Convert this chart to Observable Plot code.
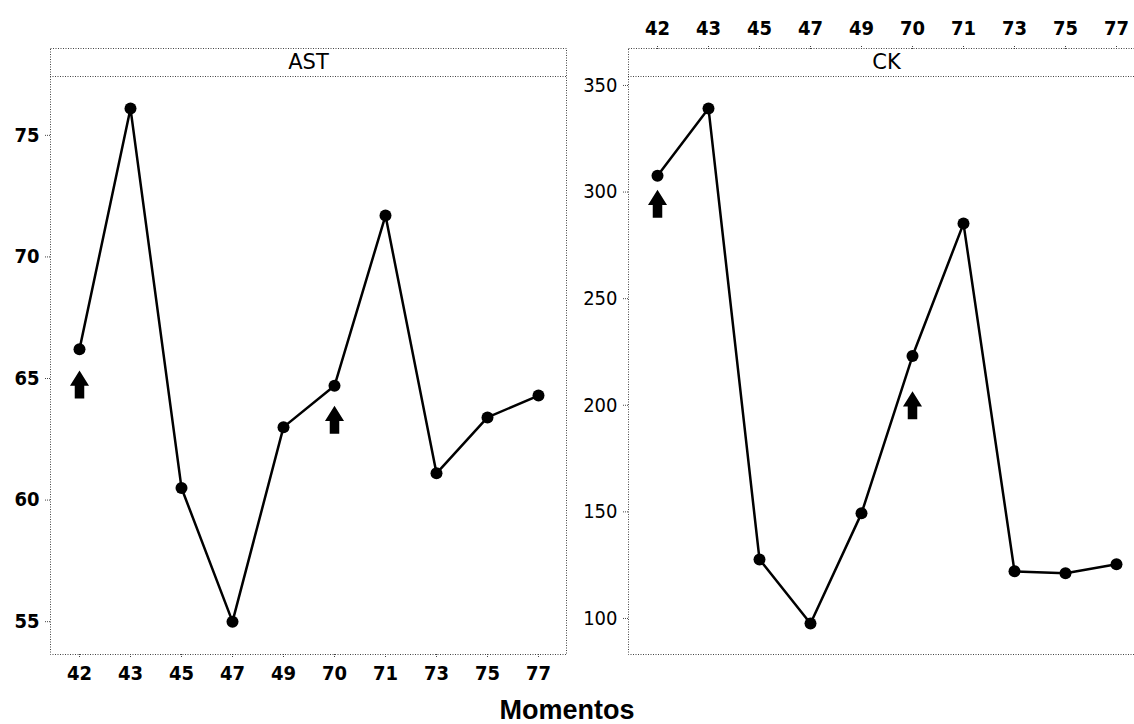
<!DOCTYPE html>
<html>
<head>
<meta charset="utf-8">
<script src="https://cdn.jsdelivr.net/npm/d3@7"></script>
<script src="https://cdn.jsdelivr.net/npm/@observablehq/plot@0.6"></script>
<style>
  html, body { margin: 0; padding: 0; background: #fff; overflow: hidden; }
  #wrap { position: relative; width: 1134px; height: 724px; overflow: hidden; background: #fff; }
  #wrap svg { position: absolute; top: 0; background: transparent; }
  #xlabel { position: absolute; left: 0; width: 1134px; top: 697px; height: 26px; line-height: 26px; text-align: center;
            font-family: "Liberation Sans", Arial, sans-serif; font-weight: bold; font-size: 27px; color: #000; }
</style>
</head>
<body>
<div id="wrap"><div id="xlabel">Momentos</div></div>
<script>
// ---- data ----
const moments = ["42", "43", "45", "47", "49", "70", "71", "73", "75", "77"];
const astValues = [66.2, 76.1, 60.5, 55.0, 63.0, 64.7, 71.7, 61.1, 63.4, 64.3];
const ckValues = [307.7, 339.2, 127.7, 97.6, 149.3, 223.1, 285.2, 122.1, 121.2, 125.4];
const astTicks = [55, 60, 65, 70, 75];
const ckTicks = [100, 150, 200, 250, 300, 350];
const astArrowMoments = ["42", "70"];
const astArrowY = [64.75, 63.3];
const ckArrowMoments = ["42", "70"];
const ckArrowY = [294.5, 200];
const panelTitles = ["AST", "CK"];
const xTitle = "Momentos";

document.getElementById("xlabel").textContent = xTitle;

const astData = moments.map((m, i) => ({moment: m, value: astValues[i]}));
const ckData = moments.map((m, i) => ({moment: m, value: ckValues[i]}));
const astArrows = astArrowMoments.map((m, i) => ({moment: m, value: astArrowY[i]}));
const ckArrows = ckArrowMoments.map((m, i) => ({moment: m, value: ckArrowY[i]}));

// block arrow symbol pointing up
const blockArrow = {
  draw(context, size) {
    const r = Math.sqrt(size / Math.PI);
    context.moveTo(0, -r);
    context.lineTo(0.68 * r, 0.08 * r);
    context.lineTo(0.34 * r, 0.08 * r);
    context.lineTo(0.34 * r, r);
    context.lineTo(-0.34 * r, r);
    context.lineTo(-0.34 * r, 0.08 * r);
    context.lineTo(-0.68 * r, 0.08 * r);
    context.closePath();
  }
};

const frameStroke = "#444";
const dash = "1,1.5";
const W = 590, H = 724;

function panel({data, arrows, domain, ticks, title, xAnchor, yWeight}) {
  return Plot.plot({
    width: W,
    height: H,
    marginLeft: 50,
    marginRight: 24,
    marginTop: 48,
    marginBottom: 70,
    style: {fontFamily: "'DejaVu Sans Condensed', 'DejaVu Sans', sans-serif", fontSize: "20px", color: "#000", background: "transparent"},
    x: {type: "point", domain: moments, padding: 0.5, label: null},
    y: {domain, range: [H - 70, 76], label: null},
    marks: [
      Plot.frame({stroke: frameStroke, strokeDasharray: dash}),
      Plot.ruleY([domain[1]], {stroke: frameStroke, strokeDasharray: dash}),
      Plot.text([title], {frameAnchor: "top", dy: 14, lineAnchor: "middle", text: d => d, fontSize: 21, fontFamily: "'DejaVu Sans', sans-serif", fill: "#000"}),
      xAnchor ? Plot.axisX({anchor: xAnchor, tickSize: 4, tickPadding: xAnchor === "top" ? 10 : 7, stroke: frameStroke, strokeDasharray: "1,1", fontWeight: "bold", label: null}) : null,
      Plot.axisY({anchor: "left", ticks, tickSize: 5, tickPadding: 6, stroke: frameStroke, strokeDasharray: "1,1", fontWeight: yWeight, label: null}),
      Plot.line(data, {x: "moment", y: "value", stroke: "#000", strokeWidth: 2.5}),
      Plot.dot(data, {x: "moment", y: "value", r: 6, fill: "#000", stroke: "none"}),
      Plot.dot(arrows, {x: "moment", y: "value", r: 14, symbol: blockArrow, fill: "#000", stroke: "none"})
    ]
  });
}

const wrap = document.getElementById("wrap");
const p1 = panel({data: astData, arrows: astArrows, domain: [53.65, 77.42], ticks: astTicks, title: panelTitles[0], xAnchor: "bottom", yWeight: "bold"});
p1.style.left = "0px";
wrap.appendChild(p1);
const p2 = panel({data: ckData, arrows: ckArrows, domain: [83.1, 354.2], ticks: ckTicks, title: panelTitles[1], xAnchor: "top", yWeight: "normal"});
p2.style.left = "578px";
wrap.appendChild(p2);
</script>
</body>
</html>
